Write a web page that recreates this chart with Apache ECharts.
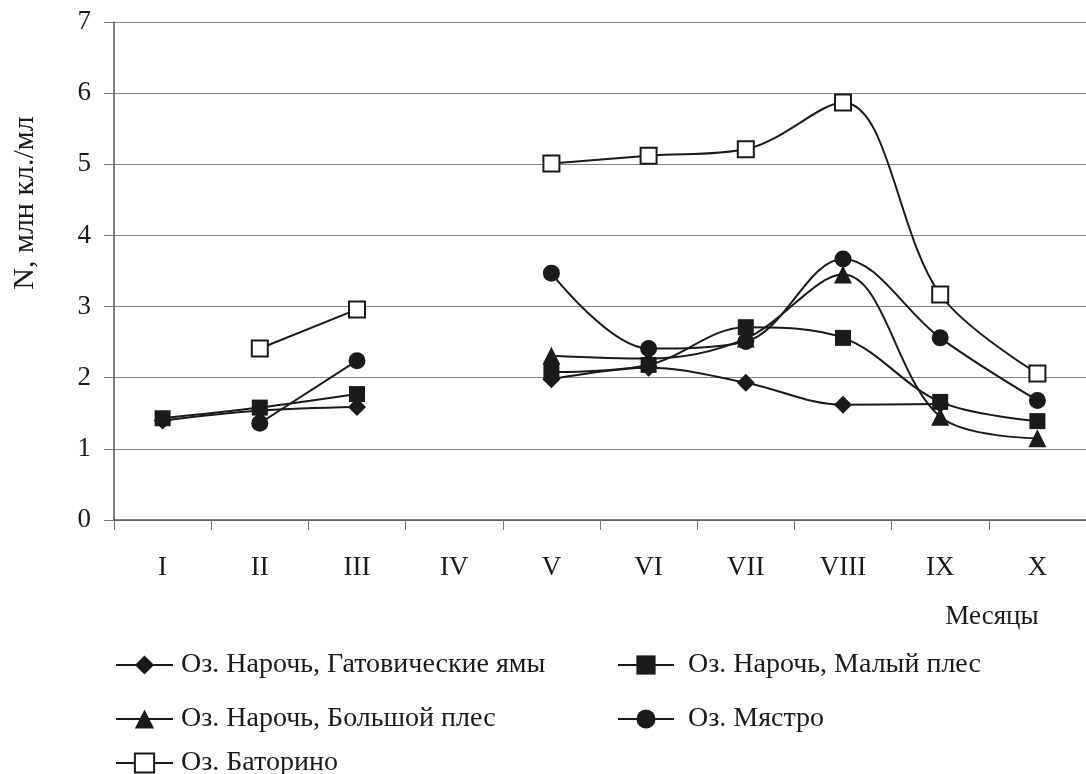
<!DOCTYPE html>
<html>
<head>
<meta charset="utf-8">
<script src="https://cdn.jsdelivr.net/npm/echarts@6/dist/echarts.min.js"></script>
<style>
html,body{margin:0;padding:0;background:#fff;}
#chart{width:1086px;height:774px;}
</style>
</head>
<body>
<div id="chart"></div>
<script>
var categories = ['I','II','III','IV','V','VI','VII','VIII','IX','X'];
var yTicks = [0,1,2,3,4,5,6,7];
var seriesNames = ['Оз. Нарочь, Гатовические ямы','Оз. Нарочь, Малый плес','Оз. Нарочь, Большой плес','Оз. Мястро','Оз. Баторино'];
var gatovichi = [1.40,1.54,1.59,null,1.98,2.14,1.93,1.62,1.63,null];
var malyPles = [1.43,1.58,1.77,null,2.08,2.18,2.71,2.56,1.66,1.39];
var bolshoiPles = [null,null,null,null,2.31,2.27,2.55,3.45,1.45,1.15];
var myastro = [null,1.36,2.24,null,3.47,2.41,2.51,3.67,2.56,1.68];
var batorino = [null,2.41,2.96,null,5.01,5.12,5.21,5.87,3.17,2.06];
var yAxisName = 'N, млн кл./мл';
var xAxisName = 'Месяцы';

var FONT = '"Liberation Serif","Times New Roman",serif';
var INK = '#1a1a1a';

function mk(name, data, symbol, size, hollow){
  return {
    name: name, type: 'line', data: data, smooth: 0.35,
    symbol: symbol, symbolSize: size,
    lineStyle: {color: INK, width: 2},
    itemStyle: hollow ? {color: '#fff', borderColor: INK, borderWidth: 2}
                      : {color: INK, borderColor: INK, borderWidth: 0},
    emphasis: {disabled: true},
    animation: false
  };
}

var chart = echarts.init(document.getElementById('chart'), null, {renderer: 'canvas'});
function lg(i, left, top, w, gap){
  return {
    data: [seriesNames[i]], left: left, top: top, padding: 0,
    itemWidth: w, itemHeight: 24, itemGap: 0, selectedMode: false,
    textStyle: {fontFamily: FONT, fontSize: 28, color: INK, padding: [0,0,0,gap]}
  };
}
chart.setOption({
  backgroundColor: '#fff',
  animation: false,
  grid: {left: 114, top: 22, width: 983, height: 498, containLabel: false},
  xAxis: {
    type: 'category', data: categories, boundaryGap: true,
    axisLine: {lineStyle: {color: '#555', width: 1.5}},
    axisTick: {show: true, length: 10, lineStyle: {color: '#777'}},
    axisLabel: {fontFamily: FONT, fontSize: 27, color: INK, margin: 34},
    splitLine: {show: false}
  },
  yAxis: {
    type: 'value', min: 0, max: 7, interval: 1,
    axisLine: {show: true, lineStyle: {color: '#555', width: 1.5}},
    axisTick: {show: true, length: 10, lineStyle: {color: '#777'}},
    axisLabel: {fontFamily: FONT, fontSize: 27, color: INK, margin: 23,
      formatter: function(v){ return yTicks.indexOf(v) >= 0 ? String(v) : ''; }},
    splitLine: {show: true, lineStyle: {color: '#888', width: 1}}
  },
  legend: [
    lg(0, 115, 651, 57, 3),
    lg(1, 617, 651, 56, 9),
    lg(2, 115, 705, 57, 3),
    lg(3, 617, 705, 56, 9),
    lg(4, 115, 749, 57, 3)
  ],
  graphic: [{
    type: 'text', x: 992, y: 617,
    style: {text: xAxisName, font: '27px ' + FONT, fill: INK, align: 'center', verticalAlign: 'middle'}
  }, {
    type: 'text', x: 25, y: 203, rotation: Math.PI / 2,
    style: {text: yAxisName, font: '30px ' + FONT, fill: INK, align: 'center', verticalAlign: 'middle'}
  }],
  series: [
    mk(seriesNames[0], gatovichi, 'diamond', 18, false),
    mk(seriesNames[1], malyPles, 'rect', 16, false),
    mk(seriesNames[2], bolshoiPles, 'triangle', 18, false),
    mk(seriesNames[3], myastro, 'circle', 17, false),
    mk(seriesNames[4], batorino, 'rect', 16, true)
  ]
});
</script>
</body>
</html>
